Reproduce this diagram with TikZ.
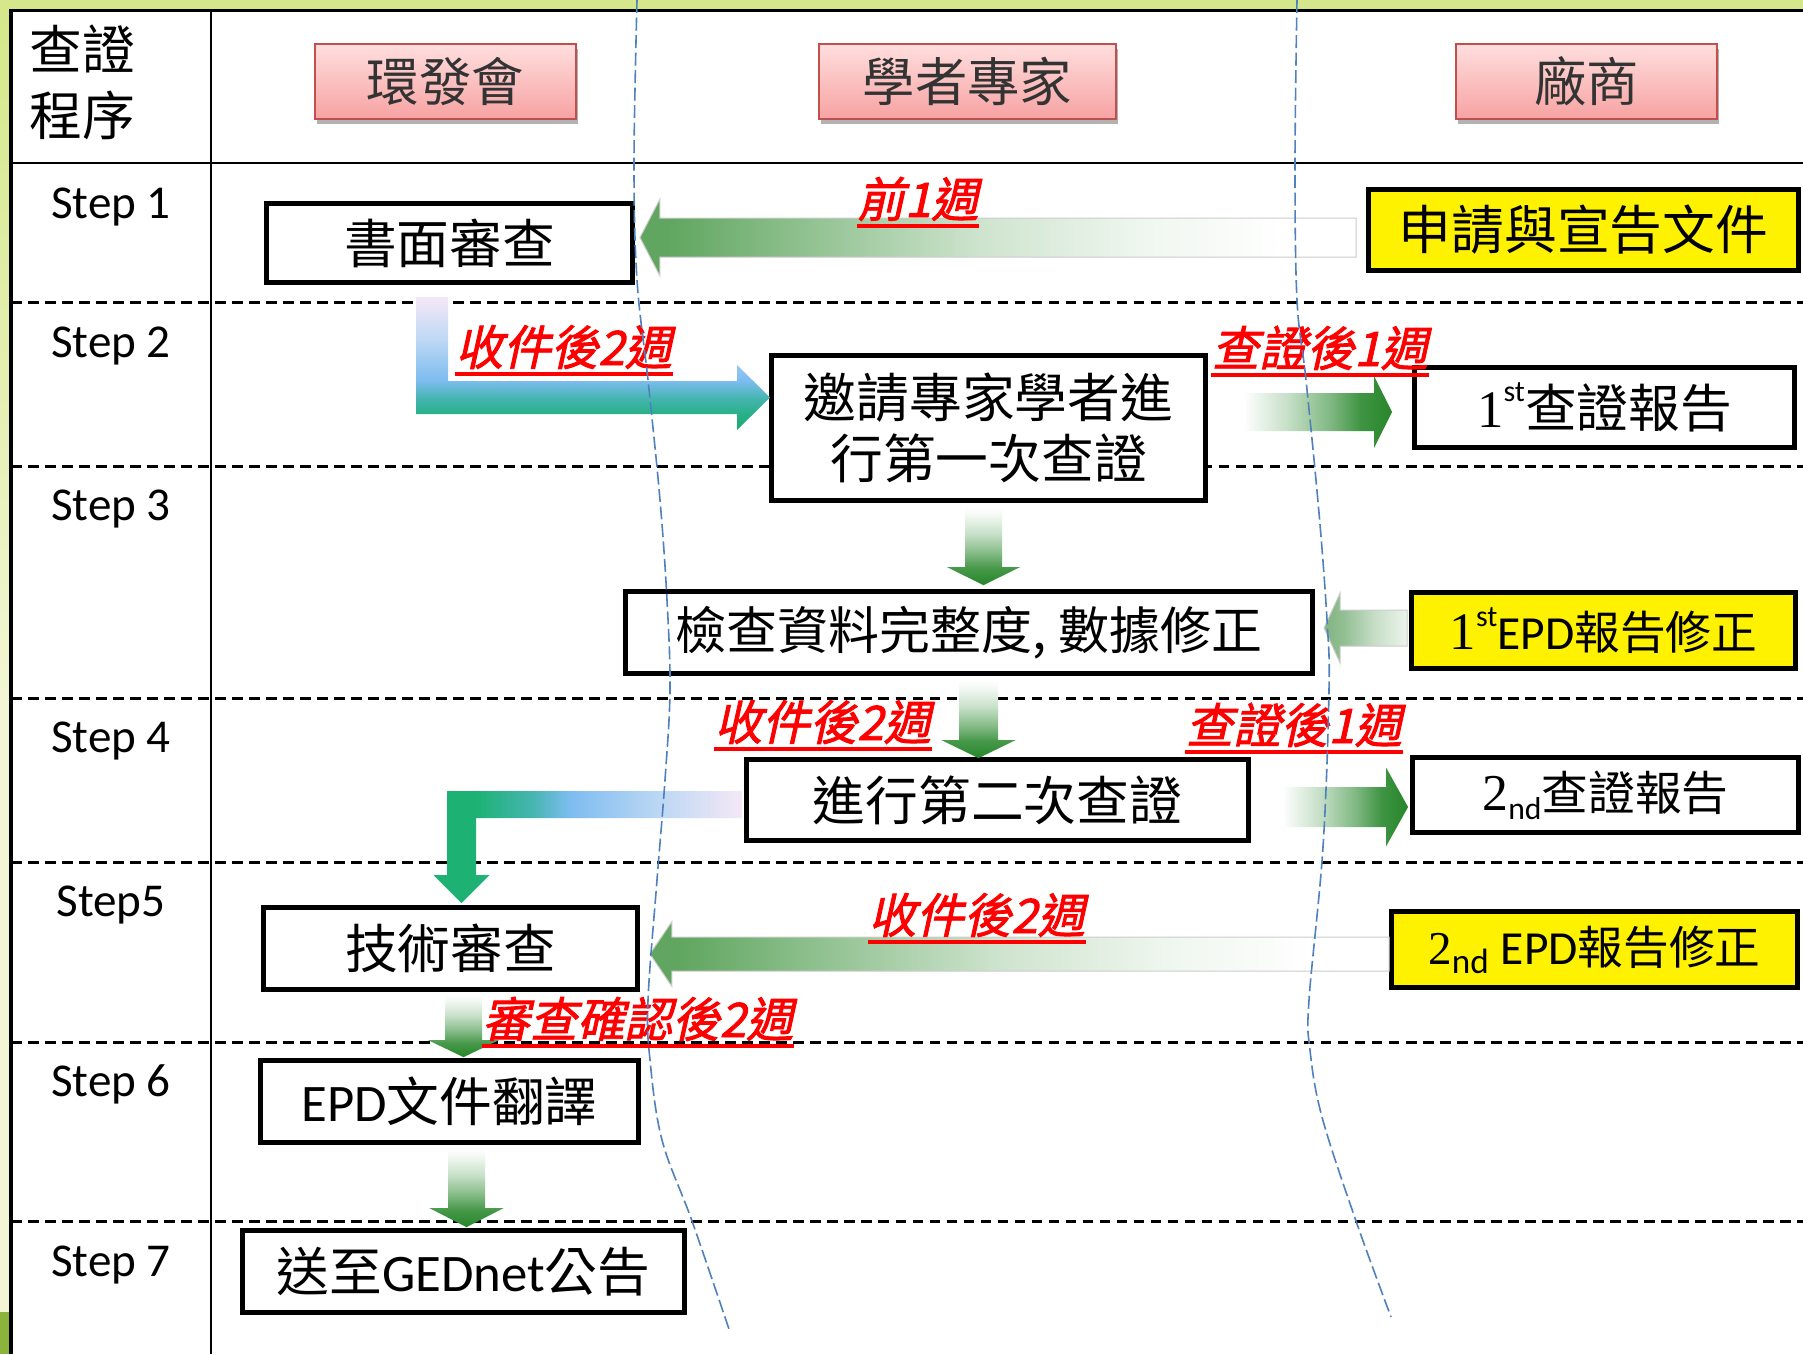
\documentclass[tikz,border=0pt]{standalone}
\usepackage{fontspec}
\newfontfamily\cjk{Noto Sans CJK TC}
\newfontfamily\carl{Carlito}
\newfontfamily\tnr{Liberation Serif}
\newfontfamily\redf[FakeSlant=0.22,FakeBold=1.8]{Noto Sans CJK TC}
\usetikzlibrary{calc,shadows}

\definecolor{bgTop}{RGB}{213,231,138}
\definecolor{bgPale}{RGB}{242,246,212}
\definecolor{bgDk}{RGB}{140,180,60}
\definecolor{pinkT}{RGB}{255,222,222}
\definecolor{pinkB}{RGB}{247,162,162}
\definecolor{hdrB}{RGB}{192,80,77}
\definecolor{blueL}{RGB}{79,129,189}
\definecolor{gL}{RGB}{96,166,96}
\definecolor{gP}{RGB}{128,180,128}
\definecolor{gD}{RGB}{38,134,42}
\definecolor{cAg}{RGB}{26,170,110}
\definecolor{cAtA}{RGB}{40,176,136}
\definecolor{cAtB}{RGB}{70,181,176}
\definecolor{cAb}{RGB}{125,188,240}
\definecolor{cApb}{RGB}{190,216,244}
\definecolor{cAl}{RGB}{245,232,246}
\definecolor{cBg}{RGB}{29,178,116}

\pgfdeclarehorizontalshading{shL}{100bp}{color(0bp)=(gL); color(25bp)=(gL); color(27bp)=(gL); color(38bp)=(gL!65!white); color(49bp)=(gL!30!white); color(60bp)=(gL!10!white); color(70bp)=(white); color(100bp)=(white)}
\pgfdeclarehorizontalshading{shP}{100bp}{color(0bp)=(gP); color(25bp)=(gP); color(37bp)=(gP!85!white); color(55bp)=(gP!45!white); color(75bp)=(gP!15!white); color(100bp)=(gP!15!white)}
\pgfdeclarehorizontalshading{shR}{100bp}{color(0bp)=(white); color(25bp)=(white); color(33bp)=(white); color(45bp)=(gD!25!white); color(58bp)=(gD!60!white); color(66bp)=(gD!88!white); color(75bp)=(gD); color(100bp)=(gD)}
\pgfdeclareverticalshading{shD}{100bp}{color(0bp)=(gD); color(25bp)=(gD); color(36bp)=(gD!85!white); color(46bp)=(gD!55!white); color(58bp)=(gD!25!white); color(70bp)=(gD!5!white); color(75bp)=(white); color(100bp)=(white)}
\pgfdeclareverticalshading{shA}{100bp}{color(0bp)=(cAg); color(25bp)=(cAg); color(31bp)=(cAtA); color(37bp)=(cAtB); color(43.5bp)=(cAb); color(59bp)=(cApb); color(75bp)=(cAl); color(100bp)=(cAl)}
\pgfdeclarehorizontalshading{shB}{100bp}{color(0bp)=(cBg); color(25bp)=(cBg); color(32bp)=(cBg); color(41bp)=(cAtB); color(47bp)=(cAb); color(62bp)=(cApb); color(75bp)=(cAl); color(100bp)=(cAl)}

\newcommand\mysup[1]{\raisebox{0.5em}{\carl\fontsize{8.5}{9}\selectfont #1}}
\newcommand\mysub[2]{\raisebox{-0.2em}{\carl\fontsize{#1}{#1}\selectfont #2}}

% horizontal fat arrow: options, tail, tip, shaft half, head half, signed head length
\newcommand\harrow[6]{%
  \path[#1] ($(#2)+(0,{-(#4)})$) -- ($(#3)+({-(#6)},{-(#4)})$) -- ($(#3)+({-(#6)},{-(#5)})$) -- (#3)
    -- ($(#3)+({-(#6)},{#5})$) -- ($(#3)+({-(#6)},{#4})$) -- ($(#2)+(0,{#4})$) -- cycle;}
% vertical fat arrow
\newcommand\varrow[6]{%
  \path[#1] ($(#2)+({-(#4)},0)$) -- ($(#3)+({-(#4)},{-(#6)})$) -- ($(#3)+({-(#5)},{-(#6)})$) -- (#3)
    -- ($(#3)+({#5},{-(#6)})$) -- ($(#3)+({#4},{-(#6)})$) -- ($(#2)+({#4},0)$) -- cycle;}
\newcommand\redlabel[3]{%
  \node[redlab] (#1) at (#2) {#3};
  \draw[red, line width=0.04cm] ($(#1.base west)+(0,9)$) -- ($(#1.base east)+(0,9)$);}

\tikzset{
  bx/.style={draw, line width=0.047cm, fill=white, inner sep=0pt, align=center, font=\cjk\fontsize{15}{17.4}\selectfont},
  ybx/.style={bx, fill=yellow},
  hdr/.style={draw=hdrB, line width=0.02cm, top color=pinkT, bottom color=pinkB, inner sep=0pt,
    minimum height=0.75cm, font=\cjk\fontsize{14.9}{18}\selectfont, text=black!80,
    drop shadow={shadow xshift=0.02cm, shadow yshift=-0.05cm, opacity=0.3, fill=black}},
  steplab/.style={anchor=base, inner sep=0pt, font=\carl\fontsize{13.4}{16}\selectfont},
  redlab/.style={anchor=base, inner sep=0pt, text=red, font=\redf\fontsize{13.5}{16}\selectfont},
  rowdash/.style={line width=0.03cm, dash pattern=on 0.107cm off 0.063cm},
  blueline/.style={draw=blueL, line width=0.016cm, dash pattern=on 0.13cm off 0.045cm},
  arrowline/.style={draw=black!20, line width=0.01cm}
}

\begin{document}
\begin{tikzpicture}[x=0.01cm,y=-0.01cm]
\useasboundingbox (0,0) rectangle (1803,1354);
% background
\fill[bgTop] (0,0) rectangle (1803,1354);
\shade[top color=bgTop, bottom color=bgPale] (0,10) rectangle (11,700);
\fill[bgPale] (0,700) rectangle (11,1312);
\fill[bgDk] (0,1312) rectangle (11,1354);
\fill[white] (11,10) rectangle (1803,1354);
% table
\draw[line width=0.03cm] (11,1354) -- (11,10) -- (1803,10);
\draw[line width=0.028cm] (211,10) -- (211,1354);
\draw[line width=0.028cm] (11,163) -- (1803,163);
\foreach \yy in {302,466,698,862,1042,1221} \draw[rowdash] (11,\yy) -- (1803,\yy);

% first column
\node[font=\cjk\fontsize{15}{18.8}\selectfont, align=left, inner sep=0pt, anchor=north west] (ttl) at (29,24) {查證\\程序};
\node[steplab] (st1) at (111,218) {Step 1};
\node[steplab] (st2) at (111,357) {Step 2};
\node[steplab] (st3) at (111,520) {Step 3};
\node[steplab] (st4) at (111,752) {Step 4};
\node[steplab] (st5) at (111,916) {Step5};
\node[steplab] (st6) at (111,1096) {Step 6};
\node[steplab] (st7) at (111,1276) {Step 7};

% headers
\node[hdr, minimum width=2.61cm] (h1) at (445.5,81.5) {環發會};
\node[hdr, minimum width=2.97cm] (h2) at (967.5,81.5) {學者專家};
\node[hdr, minimum width=2.61cm] (h3) at (1586.5,81.5) {廠商};

% boxes
\node[bx, minimum width=3.66cm, minimum height=0.79cm] (b1) at (449.5,243) {書面審查};
\node[ybx, minimum width=4.30cm, minimum height=0.81cm] (s1r) at (1583.5,230) {申請與宣告文件};
\node[bx, minimum width=4.34cm, minimum height=1.45cm] (b2) at (988.5,428) {邀請專家學者進\\行第一次查證};
\node[bx, minimum width=3.80cm, minimum height=0.80cm, font=\cjk\fontsize{14.7}{17}\selectfont] (r1) at (1604.5,407.5) {{\tnr\fontsize{15}{18}\selectfont 1}\mysup{st}查證報告};
\node[bx, minimum width=6.87cm, minimum height=0.82cm, font=\cjk\fontsize{14.5}{17}\selectfont] (b3) at (969,632.5) {檢查資料完整度, 數據修正};
\node[ybx, minimum width=3.84cm, minimum height=0.76cm, font=\cjk\fontsize{13}{16}\selectfont] (y1) at (1603.5,630.5) {{\tnr\fontsize{15}{18}\selectfont 1}\mysup{st}{\carl\fontsize{13.5}{16}\selectfont EPD}報告修正};
\node[bx, minimum width=5.02cm, minimum height=0.81cm] (b4) at (997.5,800) {進行第二次查證};
\node[bx, minimum width=3.86cm, minimum height=0.75cm, font=\cjk\fontsize{13.3}{16}\selectfont] (r2) at (1605.5,795) {{\tnr\fontsize{14.7}{18}\selectfont 2}\mysub{9}{nd}查證報告};
\node[bx, minimum width=3.74cm, minimum height=0.82cm] (b5) at (450.5,948.5) {技術審查};
\node[ybx, minimum width=4.06cm, minimum height=0.76cm, font=\cjk\fontsize{13}{16}\selectfont] (y2) at (1594.5,949.5) {{\tnr\fontsize{13.4}{16}\selectfont 2}\mysub{10}{nd}\hspace{0.12cm}{\carl\fontsize{13.5}{16}\selectfont EPD}報告修正};
\node[bx, minimum width=3.78cm, minimum height=0.82cm] (b6) at (449.5,1101.5) {{\carl EPD}文件翻譯};
\node[bx, minimum width=4.42cm, minimum height=0.82cm] (b7) at (463.5,1271.5) {送至{\carl GEDnet}公告};

% arrow end points
\path (b1.east) ++(5,-5.5) coordinate (L1tip);
\path (s1r.west) ++(-10,7.5) coordinate (L1tail);
\path (b2.east) ++(7,-16) coordinate (R1tail);
\path (r1.west) ++(-20,4.5) coordinate (R1tip);
\path (y1.west) ++(-2,-2.5) coordinate (L2tail);
\path (b3.east) ++(9,-4.5) coordinate (L2tip);
\path (b4.east) ++(7,7) coordinate (R2tail);
\path (r2.west) ++(-2,12) coordinate (R2tip);
\path (y2.west) ++(0,4.5) coordinate (L3tail);
\path (b5.east) ++(10,5.5) coordinate (L3tip);
\path (b2.south) ++(-5,4) coordinate (D1tail);
\path (b3.north) ++(14.5,-4) coordinate (D1tip);
\path (b3.south) ++(9.5,4) coordinate (D2tail);
\path (b4.north) ++(-19,1) coordinate (D2tip);
\path (b5.south) ++(13,2) coordinate (D3tail);
\path (b6.north) ++(14,-1) coordinate (D3tip);
\path (b6.south) ++(17,3) coordinate (D4tail);
\path (b7.north) ++(3,-1) coordinate (D4tip);
\path (b1.south) ++(-17.5,12) coordinate (Atail);
\path (b2.west) ++(1,-30.5) coordinate (Atip);
\coordinate (Acorner) at (Atail |- Atip);
\path (b4.west) ++(-2,4.5) coordinate (Btail);
\path (b5.north) ++(11,-2) coordinate (Btip);
\coordinate (Bcorner) at (Btip |- Btail);

% fat arrows
\harrow{shade, shading=shL, arrowline}{L1tail}{L1tip}{19.5}{38.5}{-20}
\harrow{shade, shading=shR}{R1tail}{R1tip}{19}{36}{18}
\harrow{shade, shading=shP, arrowline}{L2tail}{L2tip}{18}{35}{-16}
\harrow{shade, shading=shR}{R2tail}{R2tip}{20}{39.5}{22}
\harrow{shade, shading=shL, arrowline}{L3tail}{L3tip}{17}{32.5}{-22}
\varrow{shade, shading=shD}{D1tail}{D1tip}{18.5}{36.5}{18}
\varrow{shade, shading=shD}{D2tail}{D2tip}{19.5}{37}{18}
\varrow{shade, shading=shD}{D3tail}{D3tip}{18.5}{35.5}{17}
\varrow{shade, shading=shD}{D4tail}{D4tip}{18.5}{37}{19}
% bent arrows
\path[shade, shading=shA] ($(Atail)+(-16,0)$) -- ($(Atail)+(16,0)$) -- ($(Acorner)+(16,-16.5)$)
  -- ($(Atip)+(-33,-16.5)$) -- ($(Atip)+(-33,-32.5)$) -- (Atip) -- ($(Atip)+(-33,32.5)$)
  -- ($(Atip)+(-33,16.5)$) -- ($(Acorner)+(-16,16.5)$) -- cycle;
\path[shade, shading=shB] ($(Btail)+(0,-13.5)$) -- ($(Bcorner)+(-14.5,-13.5)$) -- ($(Btip)+(-14.5,-28)$)
  -- ($(Btip)+(-28,-28)$) -- (Btip) -- ($(Btip)+(28,-28)$) -- ($(Btip)+(14.5,-28)$)
  -- ($(Bcorner)+(14.5,13.5)$) -- ($(Btail)+(0,13.5)$) -- cycle;

% red labels
\redlabel{rl1}{918,217}{前1週}
\redlabel{rl2}{564,365}{收件後2週}
\redlabel{rl3}{1320,366}{查證後1週}
\redlabel{rl4}{823,740}{收件後2週}
\redlabel{rl5}{1294,743}{查證後1週}
\redlabel{rl6}{977,933}{收件後2週}
\redlabel{rl7}{638,1037}{審查確認後2週}

% lane separators
\draw[blueline] plot[smooth, tension=0.6] coordinates {(637,0) (634,163) (637,280) (648,380) (660,500) (667,600) (670,690) (665,780) (657,880) (648,1000) (650,1060) (662,1140) (692,1221) (730,1332)};
\draw[blueline] plot[smooth, tension=0.6] coordinates {(1297,0) (1295,163) (1297,300) (1306,380) (1319,513) (1327,620) (1329,690) (1323,847) (1309,1000) (1310,1050) (1322,1117) (1356,1221) (1391,1317)};
\end{tikzpicture}
\end{document}
